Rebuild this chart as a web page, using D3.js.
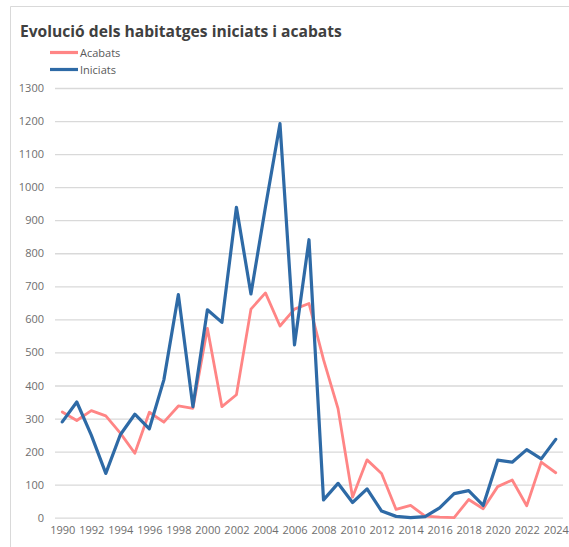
<!DOCTYPE html>
<html>
<head>
<meta charset="utf-8">
<script src="https://cdn.jsdelivr.net/npm/d3@7/dist/d3.min.js"></script>
<style>
  html, body { margin: 0; padding: 0; background: #fff; }
  svg { display: block; }
  text { font-family: "Open Sans", "Noto Sans", sans-serif; }
</style>
</head>
<body>
<svg id="chart" width="569" height="547"></svg>
<script>
// Years on the category axis
const years = d3.range(1990, 2025);
// Tick labels shown on the x axis (every other year)
const yearLabels = years.filter(y => y % 2 === 0);
// Y axis tick values
const yTicks = d3.range(0, 1301, 100);

// Dwellings finished per year
const acabats = [320, 294, 324, 308, 256, 195, 319, 289, 338, 331,
                 573, 336, 372, 631, 680, 580, 631, 648, 478, 330,
                 62, 175, 134, 25, 37, 5, 2, 0, 55, 27,
                 94, 114, 36, 168, 136];
// Dwellings started per year
const iniciats = [290, 350, 250, 134, 251, 313, 269, 417, 675, 336,
                  629, 591, 939, 677, 940, 1192, 523, 841, 54, 104,
                  46, 87, 20, 4, 0, 3, 30, 73, 82, 37,
                  174, 168, 206, 178, 237];

const seriesNames = ["Acabats", "Iniciats"];
const seriesColors = ["#ff8585", "#2e6aa6"];

const svg = d3.select("#chart");

// Outer chart frame (left and top edges visible)
svg.append("line").attr("x1", 10.5).attr("x2", 10.5).attr("y1", 6.5).attr("y2", 547)
  .attr("stroke", "#d9d9d9").attr("stroke-width", 1);
svg.append("line").attr("x1", 10.5).attr("x2", 569).attr("y1", 6.5).attr("y2", 6.5)
  .attr("stroke", "#d9d9d9").attr("stroke-width", 1);

const plot = { left: 55, right: 563, top: 88, bottom: 517.7 };

const x = d3.scalePoint().domain(years).range([plot.left, plot.right]).padding(0.5);
const y = d3.scaleLinear().domain([0, 1300]).range([plot.bottom, plot.top]);

// Horizontal gridlines and y tick labels
const yAxis = svg.append("g")
  .attr("transform", `translate(${plot.left},0)`)
  .call(d3.axisLeft(y).tickValues(yTicks).tickSize(-(plot.right - plot.left)).tickPadding(11).tickFormat(d3.format("d")));
yAxis.select(".domain").remove();
yAxis.selectAll(".tick line").attr("stroke", "#d9d9d9").attr("stroke-width", 1.3);
yAxis.selectAll(".tick text").attr("fill", "#6e6e6e").style("font-size", "11px")
  .style("font-family", "\"Open Sans\", sans-serif");

// X tick labels
const xAxis = svg.append("g")
  .attr("transform", `translate(0,${plot.bottom})`)
  .call(d3.axisBottom(x).tickValues(yearLabels).tickSize(0).tickPadding(9).tickFormat(d3.format("d")));
xAxis.select(".domain").remove();
xAxis.selectAll(".tick text").attr("fill", "#6e6e6e").style("font-size", "11px")
  .style("font-family", "\"Open Sans\", sans-serif");

// Series lines
const line = d3.line().x((d, i) => x(years[i])).y(d => y(d));
[acabats, iniciats].forEach((vals, k) => {
  svg.append("path")
    .datum(vals)
    .attr("fill", "none")
    .attr("stroke", seriesColors[k])
    .attr("stroke-width", k === 0 ? 2.8 : 3.2)
    .attr("stroke-linejoin", "round")
    .attr("stroke-linecap", "round")
    .attr("d", line);
});

// Title
const title = svg.append("text")
  .attr("x", 20).attr("y", 37)
  .attr("fill", "#404040")
  .style("font-weight", "700")
  .style("font-size", "16px")
  .text("Evolució dels habitatges iniciats i acabats");
// scale the title so that it spans the intended width
const tw = title.node().getComputedTextLength();
title.style("font-size", (16 * 322 / tw).toFixed(2) + "px");

// Legend
const legend = svg.append("g");
seriesNames.forEach((name, k) => {
  const ly = 52.5 + k * 17;
  legend.append("line")
    .attr("x1", 50).attr("x2", 78).attr("y1", ly).attr("y2", ly)
    .attr("stroke", seriesColors[k]).attr("stroke-width", 3.2);
  legend.append("text")
    .attr("x", 80).attr("y", ly + 4)
    .attr("fill", "#595959")
    .style("font-size", "11px")
    .text(name);
});
</script>
</body>
</html>
